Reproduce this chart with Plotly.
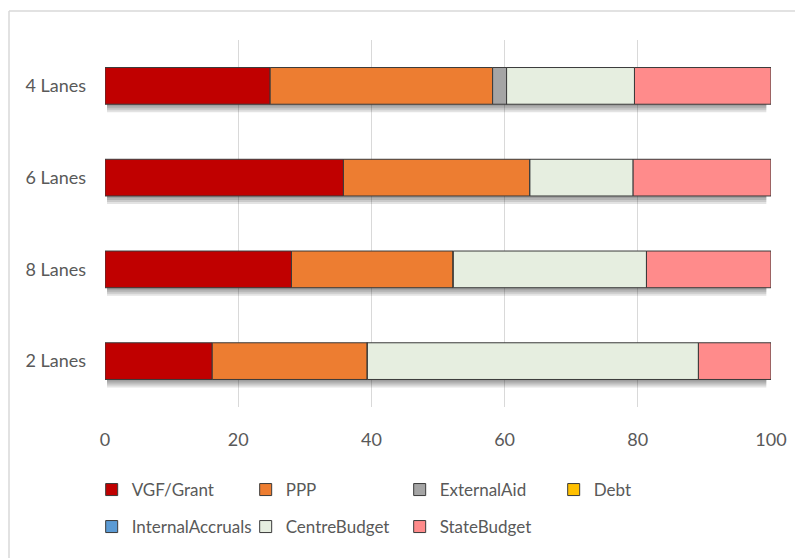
import numpy as np
import plotly.graph_objects as go

# Road segments and funding shares (percent of total project cost)
lanes = ["2 Lanes", "8 Lanes", "6 Lanes", "4 Lanes"]

vgf_grant = [16.1, 28.0, 35.8, 24.8]
ppp = [23.3, 24.3, 28.0, 33.4]
external_aid = [0.0, 0.0, 0.0, 2.1]
debt = [0.0, 0.0, 0.0, 0.0]
internal_accruals = [0.0, 0.0, 0.0, 0.0]
centre_budget = [49.7, 29.0, 15.5, 19.2]
state_budget = [10.9, 18.7, 20.7, 20.5]

series_names = ["VGF/Grant", "PPP", "ExternalAid", "Debt",
                "InternalAccruals", "CentreBudget", "StateBudget"]
series_values = [vgf_grant, ppp, external_aid, debt,
                 internal_accruals, centre_budget, state_budget]
series_colors = ["#C00000", "#ED7D31", "#A5A5A5", "#FFC000",
                 "#5B9BD5", "#E6EEE0", "#FF8B8B"]

FONT = "Lato, Roboto, sans-serif"
TEXT = "#595959"
GRID = "#D9D9D9"
BAR_W = 0.40

vals = np.array(series_values, dtype=float)
bases = np.vstack([np.zeros(vals.shape[1]), np.cumsum(vals, axis=0)[:-1]])
totals = vals.sum(axis=0)

fig = go.Figure()

# soft drop shadow under each stacked bar (layered translucent copies)
PX_PER_CAT = 367 / 4.0
for shift_px in (2, 4, 6, 8):
    fig.add_trace(go.Bar(
        y=lanes, x=totals - 1.0, base=0.3, orientation="h",
        width=BAR_W, offset=-BAR_W / 2 - shift_px / PX_PER_CAT,
        marker=dict(color="rgba(0,0,0,0.11)", line=dict(width=0)),
        showlegend=False, hoverinfo="skip",
    ))

# stacked funding segments
for i, (name, v, c) in enumerate(zip(series_names, series_values, series_colors)):
    fig.add_trace(go.Bar(
        name=name, y=lanes, x=v, base=bases[i], orientation="h",
        width=BAR_W, offset=-BAR_W / 2,
        marker=dict(color=c, line=dict(color="#3A3A3A", width=1)),
        legend="legend" if i < 4 else "legend2",
    ))

legend_style = dict(
    orientation="h", xanchor="left", yanchor="middle",
    entrywidth=109, entrywidthmode="pixels",
    font=dict(size=17, color=TEXT), bgcolor="rgba(0,0,0,0)",
    itemclick=False,
)

fig.update_layout(
    width=795, height=558,
    margin=dict(l=105, r=24, t=40, b=151, autoexpand=False),
    barmode="overlay",
    paper_bgcolor="white", plot_bgcolor="white",
    font=dict(family=FONT, size=18, color=TEXT),
    xaxis=dict(
        range=[0, 100], tickvals=[0, 20, 40, 60, 80, 100],
        showgrid=True, gridcolor=GRID, gridwidth=1.3,
        zeroline=False, showline=False, ticks="",
        ticklabelstandoff=20, tickfont=dict(size=18, color=TEXT),
    ),
    yaxis=dict(
        categoryorder="array", categoryarray=lanes,
        showgrid=False, zeroline=False, showline=False, ticks="",
        ticklabelstandoff=18, tickfont=dict(size=18, color=TEXT),
        range=[-0.5, 3.5],
    ),
    legend=dict(x=-0.02, y=(407 - 490) / 367, **legend_style),
    legend2=dict(x=-0.02, y=(407 - 527) / 367, **legend_style),
    shapes=[
        dict(type="line", xref="paper", yref="paper",
             x0=(9 - 105) / 666, x1=(795 - 105) / 666,
             y0=(407 - 11) / 367, y1=(407 - 11) / 367,
             line=dict(color=GRID, width=1.5)),
        dict(type="line", xref="paper", yref="paper",
             x0=(9 - 105) / 666, x1=(9 - 105) / 666,
             y0=(407 - 11) / 367, y1=(407 - 560) / 367,
             line=dict(color=GRID, width=1.5)),
    ],
)

fig.write_html("out.html")
